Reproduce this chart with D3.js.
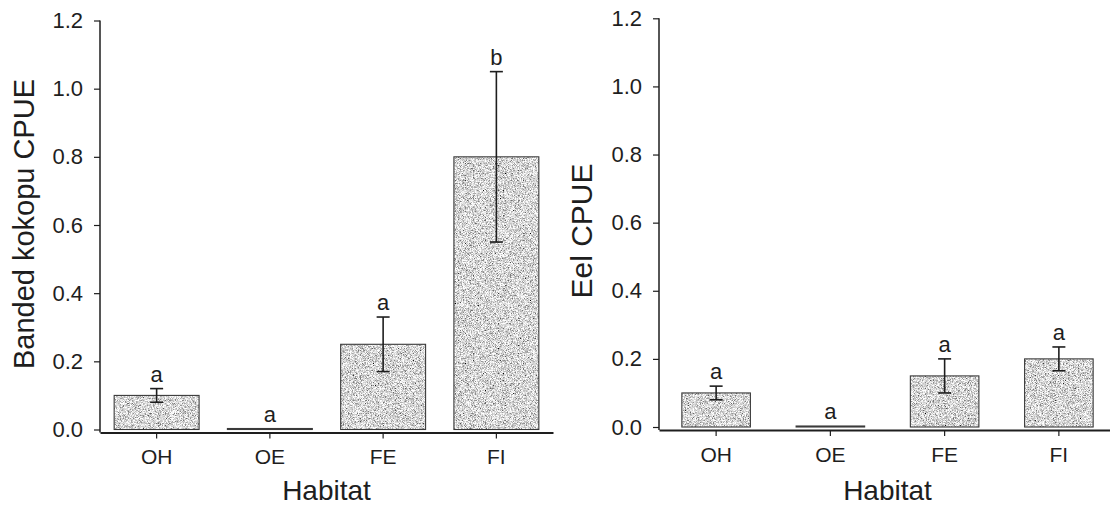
<!DOCTYPE html>
<html>
<head>
<meta charset="utf-8">
<script src="https://cdn.jsdelivr.net/npm/d3@7"></script>
<style>
  html, body { margin: 0; padding: 0; background: #fff; }
  svg { display: block; font-family: "Liberation Sans", Arial, Helvetica, sans-serif; }
</style>
</head>
<body>
<svg id="chart" width="1110" height="507"></svg>
<script>
// Habitat categories shared by both panels
const habitats = ["OH", "OE", "FE", "FI"];

// Banded kokopu catch per unit effort: mean and error-bar limits
const kokopuMean = [0.10, 0.00, 0.25, 0.80];
const kokopuLow  = [0.08, 0.00, 0.17, 0.55];
const kokopuHigh = [0.12, 0.00, 0.33, 1.05];
const kokopuGroup = ["a", "a", "a", "b"];

// Eel catch per unit effort: mean and error-bar limits
const eelMean = [0.10, 0.00, 0.15, 0.20];
const eelLow  = [0.08, 0.00, 0.10, 0.165];
const eelHigh = [0.12, 0.00, 0.20, 0.235];
const eelGroup = ["a", "a", "a", "a"];

// Y-axis tick values
const yTicks = [0.0, 0.2, 0.4, 0.6, 0.8, 1.0, 1.2];

const svg = d3.select("#chart");
const ink = "#1e1e1e";

// Stippled grey fill used for the bars
const defs = svg.append("defs");
const grain = defs.append("filter").attr("id", "grain")
  .attr("x", 0).attr("y", 0).attr("width", 1).attr("height", 1);
grain.append("feTurbulence")
  .attr("type", "fractalNoise").attr("baseFrequency", 1.4)
  .attr("numOctaves", 1).attr("seed", 5).attr("result", "noise");
grain.append("feColorMatrix").attr("in", "noise").attr("type", "matrix")
  .attr("values", "2.2 0 0 0 -0.42  2.2 0 0 0 -0.42  2.2 0 0 0 -0.42  0 0 0 0 1")
  .attr("result", "grey");
grain.append("feComposite").attr("in", "grey").attr("in2", "SourceGraphic").attr("operator", "in");

function drawPanel(opt) {
  const rows = habitats.map((h, i) => ({
    h, mean: opt.mean[i], lo: opt.low[i], hi: opt.high[i], grp: opt.group[i]
  }));

  const x = d3.scaleBand().domain(habitats)
    .range(opt.xRange).paddingInner(opt.padIn).paddingOuter(opt.padOut);
  const y = d3.scaleLinear().domain([0, 1.2]).range(opt.yRange);
  const axisY = y(0) + 3;
  const g = svg.append("g");

  // bars: stippled fill plus outline
  g.append("g").selectAll("rect").data(rows.filter(d => d.mean > 0)).join("rect")
    .attr("x", d => x(d.h)).attr("width", x.bandwidth())
    .attr("y", d => y(d.mean)).attr("height", d => y(0) - y(d.mean))
    .attr("fill", "#aaaaaa").attr("filter", "url(#grain)");
  g.append("g").selectAll("rect").data(rows).join("rect")
    .attr("x", d => x(d.h)).attr("width", x.bandwidth())
    .attr("y", d => Math.min(y(d.mean), y(0) - 1))
    .attr("height", d => Math.max(y(0) - y(d.mean), 1))
    .attr("fill", "none").attr("stroke", "#3a3a3a").attr("stroke-width", 1.1);

  // error bars
  const cap = 6.5;
  const eb = g.append("g").attr("stroke", ink).attr("stroke-width", 1.6)
    .selectAll("g").data(rows.filter(d => d.hi > d.lo)).join("g")
    .attr("transform", d => `translate(${x(d.h) + x.bandwidth() / 2},0)`);
  eb.append("line").attr("y1", d => y(d.lo)).attr("y2", d => y(d.hi));
  eb.append("line").attr("x1", -cap).attr("x2", cap).attr("y1", d => y(d.hi)).attr("y2", d => y(d.hi));
  eb.append("line").attr("x1", -cap).attr("x2", cap).attr("y1", d => y(d.lo)).attr("y2", d => y(d.lo));

  // significance letters
  g.append("g").selectAll("text").data(rows).join("text")
    .attr("x", d => x(d.h) + x.bandwidth() / 2)
    .attr("y", d => y(Math.max(d.hi, d.mean)) - (d.hi > d.lo ? 7 : 8))
    .attr("text-anchor", "middle").attr("font-size", 22).attr("fill", ink)
    .text(d => d.grp);

  // y axis
  const ya = g.append("g").attr("transform", `translate(${opt.xRange[0]},0)`)
    .call(d3.axisLeft(y).tickValues(yTicks).tickFormat(d3.format(".1f"))
      .tickSize(6).tickPadding(11).tickSizeOuter(0));
  ya.select(".domain").remove();
  ya.selectAll("line").attr("stroke", ink).attr("stroke-width", 1.2);
  ya.selectAll("text").attr("font-size", 22).attr("fill", ink).attr("font-family", null);
  ya.append("line").attr("x1", 0).attr("x2", 0)
    .attr("y1", y(1.2)).attr("y2", axisY)
    .attr("stroke", ink).attr("stroke-width", 1.5);

  // x axis
  const xa = g.append("g").attr("transform", `translate(0,${axisY})`)
    .call(d3.axisBottom(x).tickSize(6).tickPadding(11).tickSizeOuter(0));
  xa.select(".domain").attr("stroke", ink).attr("stroke-width", 2.2);
  xa.selectAll(".tick line").attr("stroke", ink).attr("stroke-width", 1.2);
  xa.selectAll("text").attr("font-size", 21).attr("fill", ink).attr("font-family", null);

  // axis titles
  g.append("text")
    .attr("x", (opt.xRange[0] + opt.xRange[1]) / 2).attr("y", 500)
    .attr("text-anchor", "middle").attr("font-size", 28).attr("fill", ink)
    .text("Habitat");
  g.append("text")
    .attr("transform", `translate(${opt.yTitle[0]},${opt.yTitle[1]}) rotate(-90)`)
    .attr("text-anchor", "middle").attr("font-size", opt.yTitleSize).attr("fill", ink)
    .text(opt.yLabel);
}

drawPanel({
  mean: kokopuMean, low: kokopuLow, high: kokopuHigh, group: kokopuGroup,
  xRange: [100, 553], padIn: 0.25, padOut: 0.125,
  yRange: [429.5, 20.5],
  yLabel: "Banded kokopu CPUE", yTitle: [34, 224], yTitleSize: 29
});

drawPanel({
  mean: eelMean, low: eelLow, high: eelHigh, group: eelGroup,
  xRange: [659, 1116], padIn: 0.4, padOut: 0.2,
  yRange: [427, 18.3],
  yLabel: "Eel CPUE", yTitle: [592, 231], yTitleSize: 30
});
</script>
</body>
</html>
